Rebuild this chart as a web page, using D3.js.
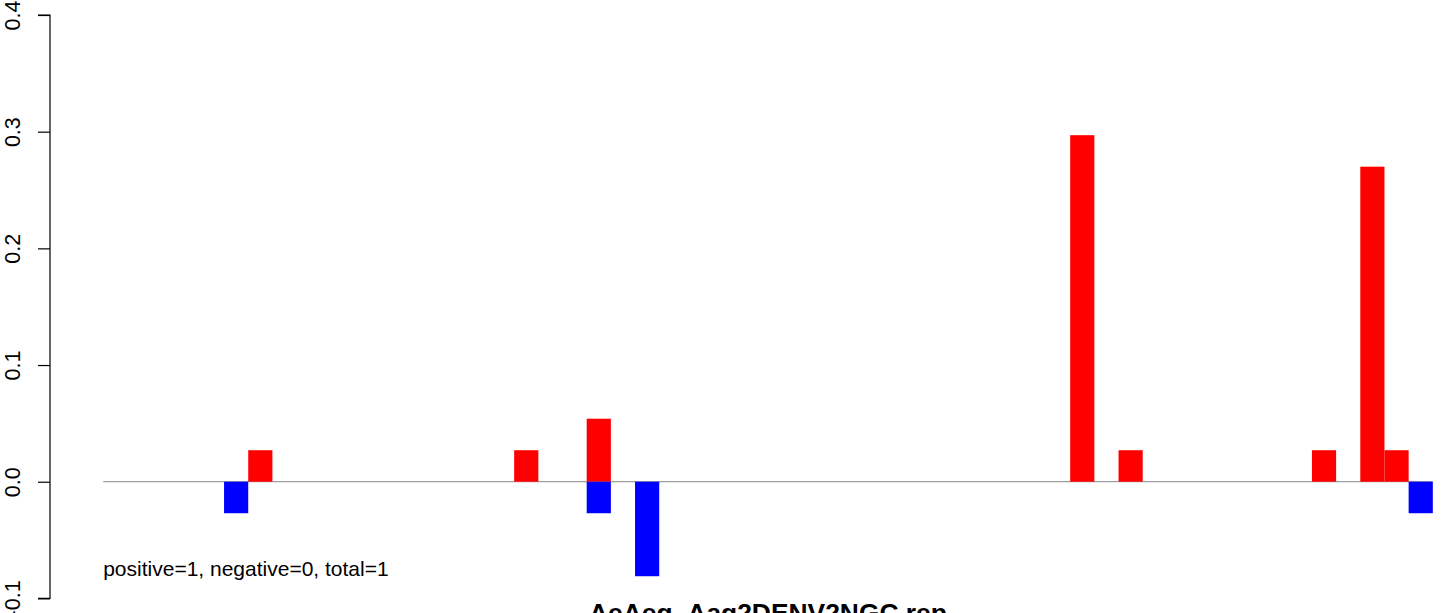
<!DOCTYPE html>
<html>
<head>
<meta charset="utf-8">
<script src="https://cdn.jsdelivr.net/npm/d3@7"></script>
<style>
  html, body { margin: 0; padding: 0; background: #fff; }
  svg { display: block; }
  text { font-family: "Liberation Sans", Arial, sans-serif; }
</style>
</head>
<body>
<svg id="chart" width="1444" height="613"></svg>
<script>
// ---- data ----
const nSlots = 55;
const positivePositions = [6, 17, 20, 40, 42, 50, 52, 53];
const positiveValues    = [0.027, 0.027, 0.054, 0.297, 0.027, 0.027, 0.270, 0.027];
const negativePositions = [5, 20, 22, 54];
const negativeValues    = [-0.027, -0.027, -0.081, -0.027];
const yTicks = [-0.1, 0.0, 0.1, 0.2, 0.3, 0.4];
const yTickLabels = ["-0.1", "0.0", "0.1", "0.2", "0.3", "0.4"];
const titleText = "AeAeg_Aag2DENV2NGC rep";
const noteText = "positive=1, negative=0, total=1";

// ---- layout ----
const svg = d3.select("#chart");
const x = d3.scaleLinear().domain([-2.2, nSlots + 2.2]).range([50, 1486]);
const y = d3.scaleLinear().domain([-0.1, 0.4]).range([598.4, 15]);

const pos = positivePositions.map((p, i) => ({ p, v: positiveValues[i] }));
const neg = negativePositions.map((p, i) => ({ p, v: negativeValues[i] }));

// baseline
svg.append("line")
  .attr("x1", x(0)).attr("x2", x(nSlots))
  .attr("y1", y(0)).attr("y2", y(0))
  .attr("stroke", "#a0a0a0").attr("stroke-width", 1.3);

// bars
svg.append("g").selectAll("rect").data(pos).join("rect")
  .attr("x", d => x(d.p)).attr("width", d => x(d.p + 1) - x(d.p))
  .attr("y", d => y(d.v)).attr("height", d => y(0) - y(d.v))
  .attr("fill", "#ff0000");
svg.append("g").selectAll("rect").data(neg).join("rect")
  .attr("x", d => x(d.p)).attr("width", d => x(d.p + 1) - x(d.p))
  .attr("y", y(0)).attr("height", d => y(d.v) - y(0))
  .attr("fill", "#0000ff");

// y axis
const axis = d3.axisLeft(y).tickValues(yTicks)
  .tickFormat((d, i) => yTickLabels[i]).tickSize(12).tickPadding(0);
const ag = svg.append("g").attr("transform", "translate(50,0)").call(axis);
ag.select(".domain").attr("d", `M-12,${y(-0.1)}H0V${y(0.4)}H-12`).attr("stroke", "#000").attr("stroke-width", 1.2).attr("fill", "none");
ag.selectAll(".tick line").attr("stroke", "#000").attr("stroke-width", 1.2);
ag.selectAll(".tick text")
  .attr("x", 0).attr("y", 0).attr("dy", null).attr("fill", "#000")
  .style("font-size", "21.5px").style("font-family", '"Liberation Sans", Arial, sans-serif')
  .attr("text-anchor", "middle")
  .attr("transform", "translate(-30.5,0) rotate(-90)");

// note
svg.append("text").attr("x", x(0)).attr("y", 576)
  .style("font-size", "21px").attr("fill", "#000").text(noteText);

// title
svg.append("text").attr("x", 768).attr("y", 621.5)
  .attr("text-anchor", "middle").style("font-size", "26.4px").style("font-weight", "bold")
  .attr("fill", "#000").text(titleText);
</script>
</body>
</html>
